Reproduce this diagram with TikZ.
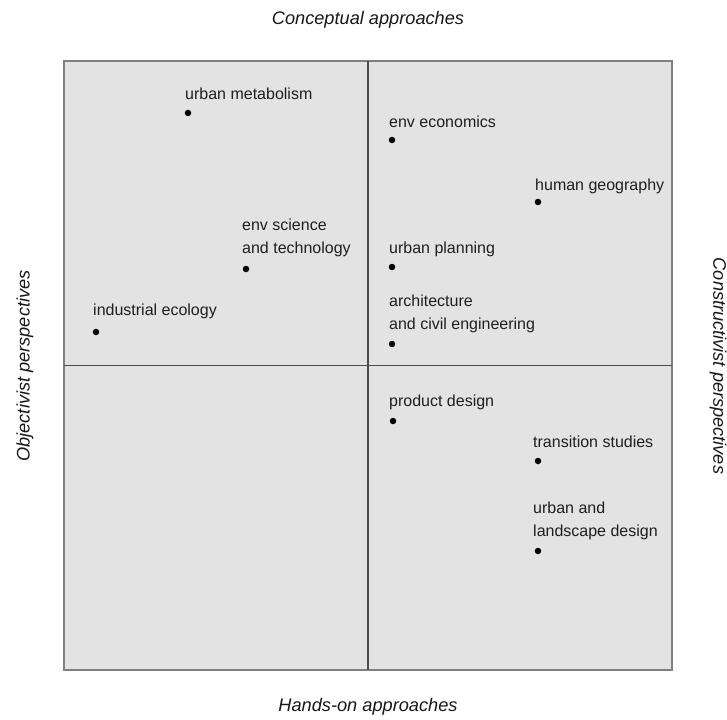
\documentclass[tikz,border=0pt]{standalone}
\usepackage{fontspec}
\setmainfont{Liberation Sans}
\begin{document}
\begin{tikzpicture}[x=1pt,y=-1pt,
  lbl/.style={inner sep=0pt, anchor=west, align=left, text=black!88, font=\fontsize{16}{23}\selectfont},
  axis/.style={inner sep=0pt, text=black!90, font=\fontsize{18.2}{22}\selectfont\itshape},
  dot/.style={circle, fill=black, inner sep=0pt, minimum size=6.5pt},
  frame/.style={draw=black!50, line width=1.2pt, fill=black!11, inner sep=0pt, outer sep=0pt},
  divider/.style={draw=black!70, line width=1.2pt}]
\useasboundingbox (0,0) rectangle (727,719);
\fill[white] (0,0) rectangle (727,719);
% box
\node[frame, minimum width=608pt, minimum height=609pt] (box) at (368,365.5) {};
\draw[divider] (box.north) -- (box.south);
\draw[divider] (box.west) -- (box.east);
% axis labels
\node[axis] (top) at (368,20) {Conceptual approaches};
\node[axis] (bottom) at (368,707) {Hands-on approaches};
\node[axis, rotate=90] (left) at (25,366) {Objectivist perspectives};
\node[axis, rotate=-90] (right) at (718,366) {Constructivist perspectives};
% items
\node[lbl] (lum) at (185,94) {urban metabolism};
\node[dot] (um) at (188,113) {};
\node[lbl] (lest) at (242,237.5) {env science\\and technology};
\node[dot] (est) at (246,269) {};
\node[lbl] (lie) at (93,311) {industrial ecology};
\node[dot] (ie) at (96,332) {};
\node[lbl] (lee) at (389,122) {env economics};
\node[dot] (ee) at (392,140) {};
\node[lbl] (lhg) at (535,186) {human geography};
\node[dot] (hg) at (538,202) {};
\node[lbl] (lup) at (389,249) {urban planning};
\node[dot] (up) at (392,267) {};
\node[lbl] (lace) at (389,314) {architecture\\and civil engineering};
\node[dot] (ace) at (392,344) {};
\node[lbl] (lpd) at (389,402) {product design};
\node[dot] (pd) at (393,421) {};
\node[lbl] (lts) at (533,442) {transition studies};
\node[dot] (ts) at (538,461) {};
\node[lbl] (luld) at (533,521) {urban and\\landscape design};
\node[dot] (uld) at (538,551) {};
\end{tikzpicture}
\end{document}
